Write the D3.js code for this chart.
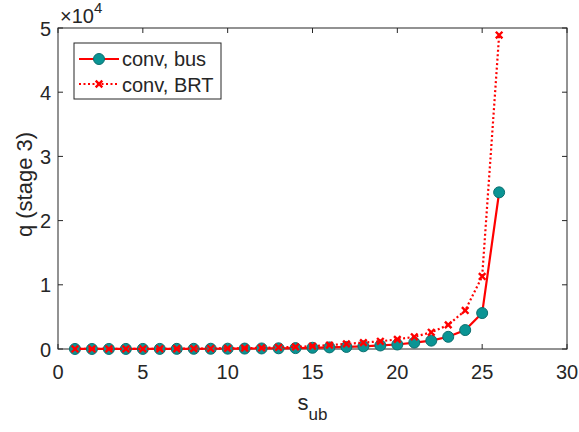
<!DOCTYPE html>
<html>
<head>
<meta charset="utf-8">
<script src="https://cdn.jsdelivr.net/npm/d3@7"></script>
<style>
  body { margin: 0; background: #fff; }
  svg text { font-family: "Liberation Sans", Arial, sans-serif; fill: #262626; }
</style>
</head>
<body>
<svg id="chart" width="579" height="432"></svg>
<script>
  // data
  const sub = [1, 2, 3, 4, 5, 6, 7, 8, 9, 10, 11, 12, 13, 14, 15, 16, 17, 18, 19, 20, 21, 22, 23, 24, 25, 26];
  const qBus = [5, 6, 8, 11, 14, 18, 23, 30, 40, 50, 65, 85, 110, 140, 190, 250, 320, 420, 550, 700, 1000, 1300, 1900, 2950, 5600, 24400];
  const qBRT = [6, 9, 12, 16, 22, 30, 40, 55, 75, 100, 130, 180, 250, 330, 450, 600, 800, 1000, 1200, 1500, 1900, 2600, 3750, 6000, 11300, 48900];
  const xTicks = [0, 5, 10, 15, 20, 25, 30];
  const yTicks = [0, 1, 2, 3, 4, 5];

  const margin = { top: 28, right: 12, bottom: 83, left: 58 };
  const width = 579, height = 432;
  const svg = d3.select("#chart");

  // scales
  const x = d3.scaleLinear().domain([0, 30]).range([margin.left, width - margin.right]);
  const y = d3.scaleLinear().domain([0, 5e4]).range([height - margin.bottom, margin.top]);

  const axisColor = "#262626";

  // box + ticks (inward like matlab)
  const tickLen = 5;
  const axes = svg.append("g");
  axes.append("rect")
    .attr("x", x(0)).attr("y", y(5e4))
    .attr("width", x(30) - x(0)).attr("height", y(0) - y(5e4))
    .attr("fill", "none").attr("stroke", axisColor).attr("stroke-width", 1);

  xTicks.forEach(t => {
    axes.append("line").attr("x1", x(t)).attr("x2", x(t))
      .attr("y1", y(0)).attr("y2", y(0) - tickLen).attr("stroke", axisColor);
    axes.append("line").attr("x1", x(t)).attr("x2", x(t))
      .attr("y1", y(5e4)).attr("y2", y(5e4) + tickLen).attr("stroke", axisColor);
    axes.append("text").attr("x", x(t)).attr("y", y(0) + 30)
      .attr("text-anchor", "middle").style("font-size", "20px").text(t);
  });
  yTicks.forEach(t => {
    axes.append("line").attr("x1", x(0)).attr("x2", x(0) + tickLen)
      .attr("y1", y(t * 1e4)).attr("y2", y(t * 1e4)).attr("stroke", axisColor);
    axes.append("line").attr("x1", x(30)).attr("x2", x(30) - tickLen)
      .attr("y1", y(t * 1e4)).attr("y2", y(t * 1e4)).attr("stroke", axisColor);
    axes.append("text").attr("x", x(0) - 7).attr("y", y(t * 1e4) + 7.5)
      .attr("text-anchor", "end").style("font-size", "20px").text(t);
  });

  // exponent label
  const ex = axes.append("text").attr("x", x(0) + 2).attr("y", 23).style("font-size", "20px");
  ex.append("tspan").text("\u00d710");
  ex.append("tspan").attr("dy", -10).style("font-size", "15px").text("4");

  // axis labels
  const xl = svg.append("text").attr("x", (x(0) + x(30)) / 2).attr("y", 410)
    .attr("text-anchor", "middle").style("font-size", "22px");
  xl.append("tspan").text("s");
  xl.append("tspan").attr("dy", 10).style("font-size", "17px").text("ub");

  svg.append("text")
    .attr("transform", `translate(32, ${(y(0) + y(5e4)) / 2 - 4}) rotate(-90)`)
    .attr("text-anchor", "middle").style("font-size", "22px").text("q (stage 3)");

  const busData = sub.map((s, i) => ({ s, q: qBus[i] }));
  const brtData = sub.map((s, i) => ({ s, q: qBRT[i] }));
  const line = d3.line().x(d => x(d.s)).y(d => y(d.q));

  const teal = "#0a9494", tealEdge = "#0b6f6f";

  // bus line
  svg.append("path").datum(busData)
    .attr("fill", "none").attr("stroke", "#ff0000").attr("stroke-width", 2.2)
    .attr("d", line);
  svg.selectAll(".bus").data(busData).enter().append("circle")
    .attr("class", "bus")
    .attr("cx", d => x(d.s)).attr("cy", d => y(d.q)).attr("r", 5.5)
    .attr("fill", teal).attr("stroke", tealEdge).attr("stroke-width", 1);

  // BRT line
  svg.append("path").datum(brtData)
    .attr("fill", "none").attr("stroke", "#ff0000").attr("stroke-width", 2.2)
    .attr("stroke-dasharray", "2,2.5")
    .attr("d", line);
  const cross = d3.symbol().type(d3.symbolX).size(30);
  svg.selectAll(".brt").data(brtData).enter().append("path")
    .attr("class", "brt")
    .attr("transform", d => `translate(${x(d.s)},${y(d.q)})`)
    .attr("d", cross)
    .attr("fill", "none").attr("stroke", "#ff0000").attr("stroke-width", 2.4);

  // legend
  const lg = svg.append("g");
  lg.append("rect").attr("x", 74).attr("y", 43).attr("width", 147).attr("height", 56)
    .attr("fill", "#fff").attr("stroke", axisColor).attr("stroke-width", 1);
  lg.append("line").attr("x1", 79).attr("x2", 119).attr("y1", 59).attr("y2", 59)
    .attr("stroke", "#ff0000").attr("stroke-width", 2.2);
  lg.append("circle").attr("cx", 99).attr("cy", 59).attr("r", 5.5)
    .attr("fill", teal).attr("stroke", tealEdge);
  lg.append("text").attr("x", 122).attr("y", 66).style("font-size", "20px").text("conv, bus");
  lg.append("line").attr("x1", 79).attr("x2", 119).attr("y1", 84).attr("y2", 84)
    .attr("stroke", "#ff0000").attr("stroke-width", 2.2).attr("stroke-dasharray", "2,2.5");
  lg.append("path").attr("transform", "translate(99,84)").attr("d", cross)
    .attr("fill", "none").attr("stroke", "#ff0000").attr("stroke-width", 2.4);
  lg.append("text").attr("x", 122).attr("y", 91.5).style("font-size", "20px").text("conv, BRT");
</script>
</body>
</html>
